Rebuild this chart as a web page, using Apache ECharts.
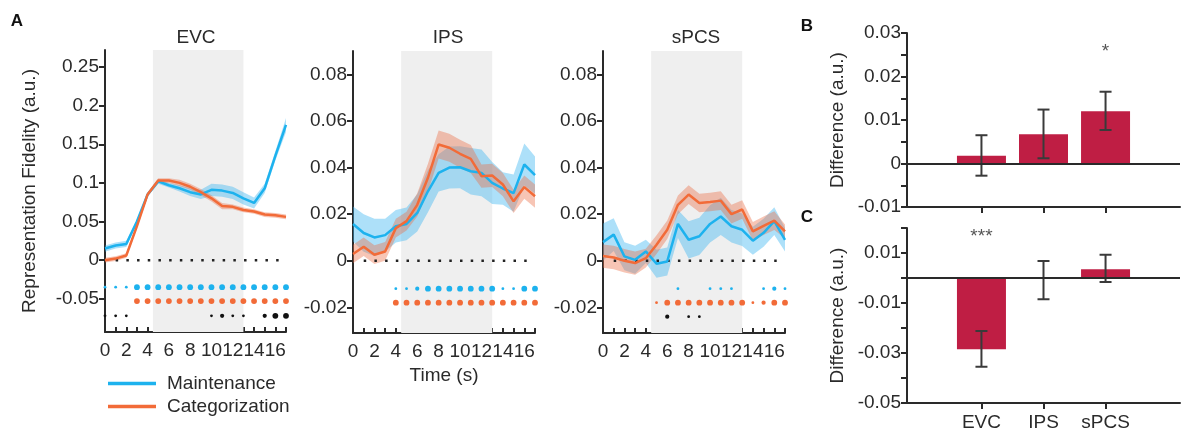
<!DOCTYPE html>
<html>
<head>
<meta charset="utf-8">
<script src="https://cdn.jsdelivr.net/npm/echarts@6/dist/echarts.min.js"></script>
<style>
html, body { margin: 0; padding: 0; background: #fff; }
#chart { width: 1182px; height: 433px; }
</style>
</head>
<body>
<div id="chart"></div>
<script>
const times = [0, 1, 2, 3, 4, 5, 6, 7, 8, 9, 10, 11, 12, 13, 14, 15, 16, 17];
const timeLabels = [0, 2, 4, 6, 8, 10, 12, 14, 16];
const regions = ['EVC', 'IPS', 'sPCS'];

// panel A, mean +- sem per timepoint
const evcMaint = [0.015, 0.019, 0.021, 0.05, 0.085, 0.102, 0.097, 0.093, 0.088, 0.085, 0.091, 0.090, 0.087, 0.080, 0.074, 0.093, 0.135, 0.175];
const evcMaintErr = [0.004, 0.004, 0.004, 0.003, 0.003, 0.003, 0.003, 0.004, 0.005, 0.006, 0.008, 0.008, 0.008, 0.008, 0.007, 0.006, 0.006, 0.009];
const evcCat = [0.0, 0.002, 0.006, 0.044, 0.085, 0.103, 0.103, 0.100, 0.095, 0.088, 0.080, 0.070, 0.069, 0.065, 0.063, 0.059, 0.058, 0.056];
const evcCatErr = [0.003, 0.003, 0.003, 0.003, 0.003, 0.003, 0.003, 0.004, 0.004, 0.004, 0.004, 0.004, 0.003, 0.003, 0.003, 0.003, 0.003, 0.003];

const ipsMaint = [0.0158, 0.0119, 0.0100, 0.0110, 0.0148, 0.0158, 0.0205, 0.0298, 0.0377, 0.0400, 0.0401, 0.0384, 0.0377, 0.0334, 0.0310, 0.0290, 0.0413, 0.0367];
const ipsMaintErr = [0.0075, 0.008, 0.008, 0.007, 0.007, 0.007, 0.008, 0.009, 0.008, 0.009, 0.009, 0.010, 0.010, 0.009, 0.007, 0.008, 0.009, 0.008];
const ipsCat = [0.0029, 0.0060, 0.0026, 0.0040, 0.0140, 0.0170, 0.0240, 0.0356, 0.0499, 0.0485, 0.0459, 0.0437, 0.0363, 0.0366, 0.0327, 0.0255, 0.0316, 0.0277];
const ipsCatErr = [0.004, 0.004, 0.004, 0.004, 0.004, 0.004, 0.005, 0.006, 0.006, 0.006, 0.006, 0.006, 0.005, 0.005, 0.005, 0.005, 0.005, 0.005];

const spcsMaint = [0.0080, 0.0112, 0.0019, 0.0004, 0.0040, -0.0013, -0.0003, 0.0158, 0.0090, 0.0105, 0.0158, 0.0190, 0.0148, 0.0133, 0.0086, 0.0120, 0.0170, 0.0090];
const spcsMaintErr = [0.008, 0.007, 0.006, 0.006, 0.005, 0.006, 0.006, 0.006, 0.008, 0.008, 0.008, 0.008, 0.007, 0.007, 0.006, 0.006, 0.006, 0.005];
const spcsCat = [0.0020, 0.0014, 0.0, -0.0010, 0.0011, 0.0069, 0.0133, 0.0240, 0.0284, 0.0248, 0.0252, 0.0258, 0.0200, 0.0220, 0.0126, 0.0150, 0.0172, 0.0126];
const spcsCatErr = [0.005, 0.005, 0.005, 0.005, 0.004, 0.004, 0.004, 0.004, 0.004, 0.004, 0.004, 0.004, 0.004, 0.004, 0.004, 0.004, 0.004, 0.003];

// significance markers per timepoint: 0 none, 1 small, 2 medium, 3 large
const evcMaintSig = [1, 1, 1, 3, 3, 3, 3, 3, 3, 3, 3, 3, 3, 3, 3, 3, 3, 3];
const evcCatSig = [0, 0, 0, 3, 3, 3, 3, 3, 3, 3, 3, 3, 3, 3, 3, 3, 3, 3];
const evcDiffSig = [1, 1, 1, 0, 0, 0, 0, 0, 0, 0, 1, 2, 1, 1, 0, 2, 3, 3];
const ipsMaintSig = [0, 0, 0, 0, 1, 1, 2, 3, 3, 3, 3, 3, 3, 3, 1, 1, 3, 3];
const ipsCatSig = [0, 0, 0, 0, 3, 3, 3, 3, 3, 3, 3, 3, 3, 3, 3, 3, 3, 3];
const ipsDiffSig = [0, 0, 0, 0, 0, 0, 0, 0, 0, 0, 0, 0, 0, 0, 0, 0, 0, 0];
const spcsMaintSig = [0, 0, 0, 0, 0, 0, 0, 1, 0, 0, 1, 1, 1, 0, 0, 1, 2, 1];
const spcsCatSig = [0, 0, 0, 0, 0, 1, 3, 3, 3, 3, 3, 3, 3, 3, 1, 2, 3, 3];
const spcsDiffSig = [0, 0, 0, 0, 0, 0, 2, 0, 1, 1, 0, 0, 0, 0, 0, 0, 0, 0];

// panels B and C
const diffB = [0.0018, 0.0067, 0.0120];
const diffBLow = [-0.0028, 0.0012, 0.0077];
const diffBHigh = [0.0065, 0.0124, 0.0165];
const diffC = [-0.0285, -0.0004, 0.0035];
const diffCLow = [-0.0355, -0.0085, -0.0016];
const diffCHigh = [-0.0212, 0.0068, 0.0093];
const starsB = ['', '', '*'];
const starsC = ['***', '', ''];

const BLUE = '#1DB2EE';
const ORANGE = '#F26B38';
const RED = '#BF1E44';
const INK = '#2a2a2a';
const FONT = 'Liberation Sans, Arial, sans-serif';
const dotSizes = [0, 2.8, 4.2, 5.8];

const chart = echarts.init(document.getElementById('chart'));

const panels = [
  {maint: evcMaint, maintErr: evcMaintErr, cat: evcCat, catErr: evcCatErr,
   sig: [evcMaintSig, evcCatSig, evcDiffSig], rows: [-0.035, -0.053, -0.072],
   min: -0.093, max: 0.272, ticks: [-0.05, 0, 0.05, 0.1, 0.15, 0.2, 0.25]},
  {maint: ipsMaint, maintErr: ipsMaintErr, cat: ipsCat, catErr: ipsCatErr,
   sig: [ipsMaintSig, ipsCatSig, ipsDiffSig], rows: [-0.012, -0.018, -0.024],
   min: -0.031, max: 0.09, ticks: [-0.02, 0, 0.02, 0.04, 0.06, 0.08]},
  {maint: spcsMaint, maintErr: spcsMaintErr, cat: spcsCat, catErr: spcsCatErr,
   sig: [spcsMaintSig, spcsCatSig, spcsDiffSig], rows: [-0.012, -0.018, -0.024],
   min: -0.031, max: 0.09, ticks: [-0.02, 0, 0.02, 0.04, 0.06, 0.08]}
];

const grids = [
  {left: 105, top: 50, width: 181, height: 282},
  {left: 353, top: 51, width: 182, height: 282},
  {left: 603, top: 51, width: 182, height: 282},
  {left: 907, top: 33, width: 273, height: 174},
  {left: 907, top: 228, width: 273, height: 175}
];

const tickFmt = v => (Math.abs(v) < 1e-9 ? '0' : String(parseFloat(v.toFixed(3))));
const axisLineStyle = {color: INK, width: 2};

const xAxes = [], yAxes = [], series = [];

panels.forEach((p, i) => {
  xAxes.push({
    gridIndex: i, type: 'value', min: 0, max: 17,
    name: i === 1 ? 'Time (s)' : '', nameLocation: 'middle', nameGap: 29,
    nameTextStyle: {fontSize: 19, color: INK, fontFamily: FONT},
    axisLine: {onZero: false, lineStyle: axisLineStyle},
    axisTick: {inside: true, length: 5, customValues: times, lineStyle: axisLineStyle},
    axisLabel: {customValues: timeLabels, fontSize: 19, color: INK, margin: 9, fontFamily: FONT},
    splitLine: {show: false}
  });
  yAxes.push({
    gridIndex: i, type: 'value', min: p.min, max: p.max,
    name: i === 0 ? 'Representation Fidelity (a.u.)' : '', nameLocation: 'middle', nameGap: 66,
    nameTextStyle: {fontSize: 19, color: INK, fontFamily: FONT},
    axisLine: {show: true, onZero: false, lineStyle: axisLineStyle},
    axisTick: {show: true, length: 6, customValues: p.ticks, lineStyle: axisLineStyle},
    axisLabel: {customValues: p.ticks, formatter: tickFmt, fontSize: 19, color: INK, margin: 6, fontFamily: FONT},
    splitLine: {show: false}
  });

  // delay period shading
  series.push({
    type: 'line', xAxisIndex: i, yAxisIndex: i, data: [], z: 0, silent: true,
    markArea: {silent: true, itemStyle: {color: '#efefef'}, data: [[{xAxis: 4.5}, {xAxis: 13}]]}
  });

  // mean +- sem band drawn as one polygon through the axis scales
  const band = (mean, err, color) => {
    const rows = times.map((t, k) => [t, mean[k] - err[k], mean[k] + err[k]]);
    series.push({
      type: 'custom', xAxisIndex: i, yAxisIndex: i, silent: true, z: 2,
      data: rows, encode: {x: 0, y: [1, 2]},
      renderItem: (params, api) => {
        if (params.dataIndex !== 0) return null;
        const upper = rows.map(r => api.coord([r[0], r[2]]));
        const lower = rows.map(r => api.coord([r[0], r[1]])).reverse();
        return {type: 'polygon', shape: {points: upper.concat(lower)}, style: {fill: color}};
      }
    });
  };
  band(p.maint, p.maintErr, 'rgba(60,182,240,0.42)');
  band(p.cat, p.catErr, 'rgba(236,110,70,0.40)');

  // zero reference
  series.push({
    type: 'line', xAxisIndex: i, yAxisIndex: i, data: [[1, 0], [16.6, 0]], symbol: 'none', silent: true, z: 3,
    lineStyle: {color: '#222', width: 2.5, type: [2.5, 8.2]}
  });

  series.push({
    name: 'Maintenance', type: 'line', xAxisIndex: i, yAxisIndex: i,
    data: times.map((t, k) => [t, p.maint[k]]), symbol: 'none', z: 4,
    lineStyle: {color: BLUE, width: 2.5}, itemStyle: {color: BLUE}
  });
  series.push({
    name: 'Categorization', type: 'line', xAxisIndex: i, yAxisIndex: i,
    data: times.map((t, k) => [t, p.cat[k]]), symbol: 'none', z: 5,
    lineStyle: {color: ORANGE, width: 2.5}, itemStyle: {color: ORANGE}
  });

  [BLUE, ORANGE, '#111'].forEach((c, r) => {
    const sig = p.sig[r];
    series.push({
      type: 'scatter', xAxisIndex: i, yAxisIndex: i, silent: true, z: 6,
      data: times.filter((t, k) => sig[k] > 0).map(t => [t, p.rows[r], sig[times.indexOf(t)]]),
      symbolSize: v => dotSizes[v[2]], itemStyle: {color: c, opacity: 1}
    });
  });
});

// panels B and C
const barPanels = [
  {vals: diffB, low: diffBLow, high: diffBHigh, stars: starsB, starY: 0.0258, min: -0.01, max: 0.03, step: 0.005,
   show: v => Math.abs(Math.round(v / 0.005)) % 2 === 0},
  {vals: diffC, low: diffCLow, high: diffCHigh, stars: starsC, starY: 0.0165, min: -0.05, max: 0.02, step: 0.01,
   show: v => Math.abs(Math.round(v / 0.01)) % 2 === 1}
];

barPanels.forEach((b, j) => {
  const g = 3 + j;
  xAxes.push({
    gridIndex: g, type: 'value', min: -0.2, max: 4.2,
    axisLine: {onZero: false, lineStyle: axisLineStyle},
    axisTick: {length: 6, customValues: [1, 2, 3], lineStyle: axisLineStyle},
    axisLabel: {show: j === 1, customValues: [1, 2, 3], formatter: v => regions[Math.round(v) - 1],
      fontSize: 19, color: INK, margin: 10, fontFamily: FONT},
    splitLine: {show: false}
  });
  yAxes.push({
    gridIndex: g, type: 'value', min: b.min, max: b.max, interval: b.step,
    name: 'Difference (a.u.)', nameLocation: 'middle', nameGap: 60,
    nameTextStyle: {fontSize: 19, color: INK, fontFamily: FONT},
    axisLine: {show: true, onZero: false, lineStyle: axisLineStyle},
    axisTick: {show: true, length: 6, lineStyle: axisLineStyle},
    axisLabel: {formatter: v => (b.show(v) ? tickFmt(v) : ''), fontSize: 19, color: INK, margin: 6, fontFamily: FONT},
    splitLine: {show: false}
  });
  series.push({
    type: 'bar', xAxisIndex: g, yAxisIndex: g, barWidth: 49, silent: true, z: 2,
    data: regions.map((r, k) => [k + 1, b.vals[k]]),
    itemStyle: {color: RED},
    markLine: {symbol: 'none', silent: true, label: {show: false},
      lineStyle: {color: INK, width: 2, type: 'solid'}, data: [{yAxis: 0}]}
  });
  series.push({
    type: 'custom', xAxisIndex: g, yAxisIndex: g, silent: true, z: 4,
    data: regions.map((r, k) => [k + 1, b.low[k], b.high[k]]),
    encode: {x: 0, y: [1, 2]},
    renderItem: (params, api) => {
      const lo = api.coord([api.value(0), api.value(1)]);
      const hi = api.coord([api.value(0), api.value(2)]);
      const w = 6;
      const st = {stroke: '#3a3a3a', lineWidth: 2};
      return {type: 'group', children: [
        {type: 'line', shape: {x1: lo[0], y1: lo[1], x2: hi[0], y2: hi[1]}, style: st},
        {type: 'line', shape: {x1: lo[0] - w, y1: lo[1], x2: lo[0] + w, y2: lo[1]}, style: st},
        {type: 'line', shape: {x1: hi[0] - w, y1: hi[1], x2: hi[0] + w, y2: hi[1]}, style: st}
      ]};
    }
  });
  series.push({
    type: 'scatter', xAxisIndex: g, yAxisIndex: g, silent: true, z: 5, symbolSize: 1,
    itemStyle: {color: 'rgba(0,0,0,0)'},
    data: regions.map((r, k) => [k + 1, b.starY, b.stars[k]]).filter(d => d[2]),
    label: {show: true, position: 'inside', formatter: p => p.data[2], fontSize: 19, color: INK, fontFamily: FONT}
  });
});

const letter = (t, x, y) => ({type: 'text', x: x, y: y,
  style: {text: t, font: 'bold 17px ' + FONT, fill: '#111', textAlign: 'center', textVerticalAlign: 'middle'}});
const title = (t, x, y) => ({type: 'text', x: x, y: y,
  style: {text: t, font: '19px ' + FONT, fill: INK, textAlign: 'center', textVerticalAlign: 'middle'}});

chart.setOption({
  animation: false,
  textStyle: {fontFamily: FONT},
  grid: grids,
  xAxis: xAxes,
  yAxis: yAxes,
  series: series,
  legend: {
    orient: 'vertical', left: 103, top: 369, itemWidth: 48, itemHeight: 3.5, itemGap: 4,
    selectedMode: false,
    data: [{name: 'Maintenance', icon: 'rect'}, {name: 'Categorization', icon: 'rect'}],
    textStyle: {fontSize: 19, color: INK, fontFamily: FONT, padding: [0, 0, 0, 6]}
  },
  graphic: [
    letter('A', 17, 21), letter('B', 807, 26), letter('C', 807, 217),
    title(regions[0], 196, 38), title(regions[1], 448, 38), title(regions[2], 696, 38)
  ]
});
</script>
</body>
</html>
